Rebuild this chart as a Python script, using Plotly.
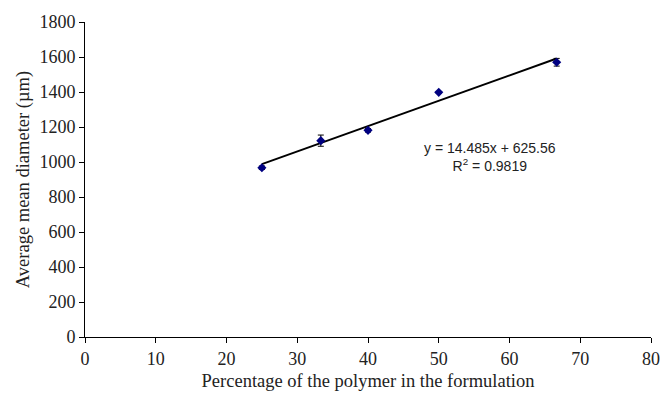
import plotly.graph_objects as go

# Data
polymer_pct = [25, 33.33, 40, 50, 66.67]
mean_diameter = [967, 1122, 1181, 1398, 1570]
err = [10, 32, 10, 5, 22]

slope = 14.485
intercept = 625.56
fit_x = [min(polymer_pct), max(polymer_pct)]
fit_y = [slope * v + intercept for v in fit_x]

x_ticks = [0, 10, 20, 30, 40, 50, 60, 70, 80]
y_ticks = [0, 200, 400, 600, 800, 1000, 1200, 1400, 1600, 1800]

fig = go.Figure()
fig.add_trace(go.Scatter(
    x=fit_x, y=fit_y, mode="lines",
    line=dict(color="black", width=2), showlegend=False, hoverinfo="skip"))
fig.add_trace(go.Scatter(
    x=polymer_pct, y=mean_diameter, mode="markers",
    marker=dict(symbol="diamond", color="#000080", size=7),
    error_y=dict(type="data", array=err, color="black", thickness=1, width=3),
    showlegend=False))

serif = "Liberation Serif"
fig.update_layout(
    width=669, height=397,
    margin=dict(l=85, r=9, t=22, b=60),
    paper_bgcolor="white", plot_bgcolor="white",
    font=dict(family=serif, color="#222", size=18),
    xaxis=dict(range=[0, 80], tickvals=x_ticks, showgrid=False, zeroline=False,
               showline=True, linecolor="black", linewidth=1,
               ticks="outside", ticklen=5, tickcolor="black",
               tickfont=dict(family=serif, size=18, color="#222"),
               title=dict(text="Percentage of the polymer in the formulation",
                          font=dict(family=serif, size=18.5, color="#222"), standoff=6)),
    yaxis=dict(range=[0, 1800], tickvals=y_ticks, showgrid=False, zeroline=False,
               showline=True, linecolor="black", linewidth=1,
               ticks="outside", ticklen=5, tickcolor="black",
               tickfont=dict(family=serif, size=18, color="#222"),
               title=dict(text="Average mean diameter (µm)",
                          font=dict(family=serif, size=18.5, color="#222"), standoff=4)),
)
fig.add_annotation(
    x=0.716, y=0.57, xref="paper", yref="paper", xanchor="center", yanchor="middle",
    text="y = 14.485x + 625.56<br>R<sup>2</sup> = 0.9819",
    showarrow=False, align="center",
    font=dict(family="Liberation Sans", size=14, color="#222"))

fig.write_html("out.html")
